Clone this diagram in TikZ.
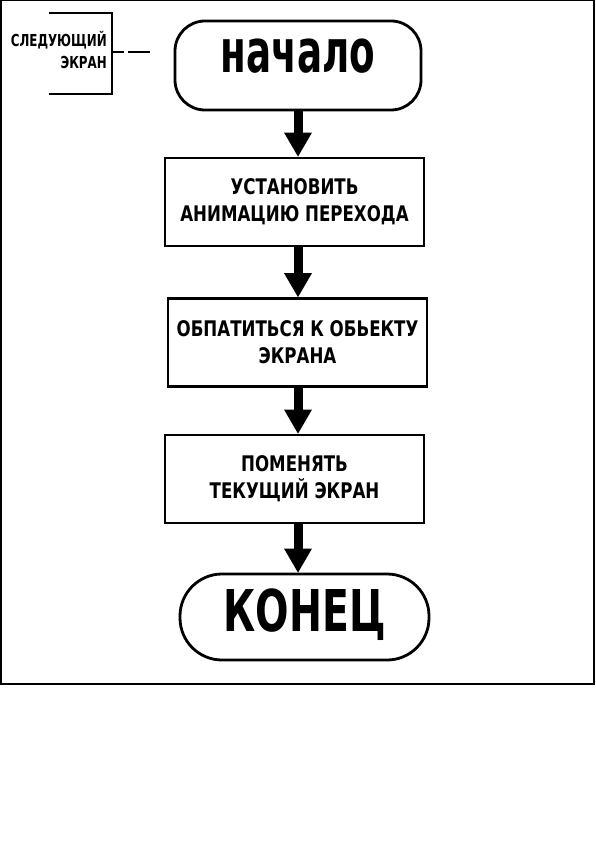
\documentclass[tikz,border=0pt]{standalone}
\usepackage{fontspec}
\usetikzlibrary{arrows.meta}
\newfontfamily\fontN{DejaVu Sans Condensed Bold}[FakeStretch=0.69]
\newfontfamily\fontK{DejaVu Sans Condensed Bold}[FakeStretch=0.76]
\newfontfamily\fontB{DejaVu Sans Condensed Bold}[FakeStretch=0.86]
\newfontfamily\fontA{DejaVu Sans Condensed Bold}[FakeStretch=0.80]
\begin{document}
\begin{tikzpicture}[x=1pt,y=-1pt,
  frame/.style={line width=1.5pt},
  term/.style={draw, line width=2.8pt, inner sep=0pt},
  procbox/.style={draw, line width=2.8pt, inner sep=0pt, minimum width=259pt, minimum height=88pt,
     align=center, font=\fontB\fontsize{21.5}{27}\selectfont},
  arr/.style={line width=9pt, -{Triangle[width=28pt,length=24pt,line width=0pt]}},
  brk/.style={line width=2.7pt},
  notetext/.style={align=right, inner sep=0pt, font=\fontA\fontsize{16.5}{22}\selectfont}]
\useasboundingbox (0,0) rectangle (595,842);
\draw[frame] (0.75,0.75) rectangle (594,684);

\node[term, rounded corners=30pt, minimum width=246pt, minimum height=89pt] (s) at (298,65.5)
  {\raisebox{-7.5pt}[0pt][0pt]{\fontN\fontsize{60}{60}\selectfont начало}};
\node[procbox] (b1) at (294.5,202) {УСТАНОВИТЬ\\АНИМАЦИЮ ПЕРЕХОДА};
\node[procbox] (b2) at (297.5,342.5) {ОБПАТИТЬСЯ К ОБЬЕКТУ\\ЭКРАНА};
\node[procbox] (b3) at (294.5,479) {ПОМЕНЯТЬ\\ТЕКУЩИЙ ЭКРАН};
\node[term, rounded corners=42pt, minimum width=249pt, minimum height=86pt] (e) at (304.5,617)
  {\raisebox{-14pt}[0pt][0pt]{\fontK\fontsize{57.6}{58}\selectfont КОНЕЦ}};

\draw[arr] (s.south) -- (s.south |- b1.north);
\draw[arr] (b1.south -| s.south) -- (b2.north -| s.south);
\draw[arr] (b2.south -| s.south) -- (b3.north -| s.south);
\draw[arr] (b3.south -| s.south) -- (e.north -| s.south);

\node[notetext, anchor=east] (note) at (107,50) {СЛЕДУЮЩИЙ\\ЭКРАН};
\coordinate (bt) at (49,13);
\coordinate (bb) at (49,94);
\coordinate (bm) at (112,52);
\coordinate (dashend) at (150,52);
\draw[brk] (bt) -- (bt -| bm) -- (bb -| bm) -- (bb);
\draw[line width=2pt, dash pattern=on 12pt off 4pt on 22pt off 4pt] (bm) -- (dashend);
\end{tikzpicture}
\end{document}
